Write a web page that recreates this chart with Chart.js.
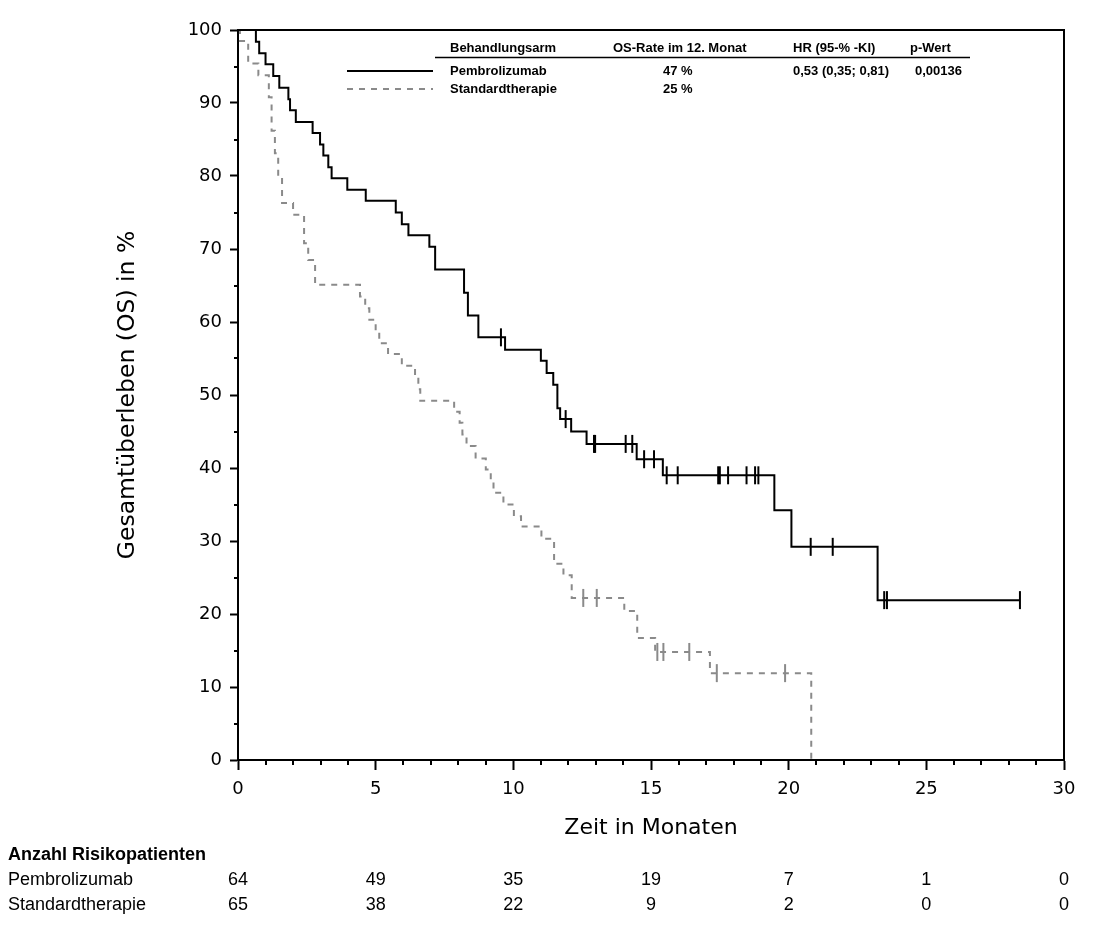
<!DOCTYPE html>
<html><head><meta charset="utf-8">
<script src="https://cdn.jsdelivr.net/npm/chart.js@4/dist/chart.umd.min.js"></script>
<style>html,body{margin:0;padding:0;background:#fff;}#wrap{width:1096px;height:931px;position:relative;}</style>
</head><body><div id="wrap"><canvas id="c" width="1096" height="931"></canvas></div>
<script>
// ---- Data ----
const pembroTimes = [0, 0.65, 0.77, 1.0, 1.28, 1.5, 1.83, 1.89, 2.1, 2.71, 2.98, 3.1, 3.28, 3.4, 3.97, 4.64, 5.73, 5.95, 6.19, 6.95, 7.16, 8.21, 8.35, 8.73, 9.7, 11.0, 11.21, 11.45, 11.6, 11.7, 12.1, 12.66, 14.48, 15.43, 19.48, 20.1, 23.23, 28.4];
const pembroSurv  = [100, 98.4, 96.8, 95.3, 93.7, 92.1, 90.5, 89.0, 87.4, 85.9, 84.3, 82.8, 81.2, 79.7, 78.1, 76.6, 75.0, 73.4, 71.9, 70.3, 67.2, 64.0, 60.9, 57.9, 56.2, 54.7, 53.0, 51.4, 48.2, 46.7, 45.0, 43.3, 41.2, 39.0, 34.2, 29.2, 21.9, 21.9];
const pembroCensor = [9.55, 11.9, 12.93, 12.97, 14.08, 14.32, 14.75, 15.11, 15.57, 15.97, 17.44, 17.5, 17.8, 18.47, 18.78, 18.9, 20.8, 21.6, 23.47, 23.57, 28.4];

const stdTimes = [0, 0.07, 0.37, 0.74, 1.12, 1.22, 1.34, 1.46, 1.6, 2.0, 2.4, 2.55, 2.8, 4.43, 4.62, 4.77, 5.0, 5.13, 5.45, 5.95, 6.43, 6.55, 6.62, 7.85, 8.05, 8.15, 8.3, 8.63, 9.0, 9.18, 9.28, 9.64, 10.02, 10.28, 11.02, 11.48, 11.82, 12.12, 14.03, 14.5, 15.15, 17.14, 20.82];
const stdSurv  = [100, 98.5, 95.4, 93.8, 90.8, 86.2, 83.1, 80.0, 76.3, 74.7, 70.8, 68.5, 65.1, 63.5, 61.9, 60.3, 58.7, 57.1, 55.6, 54.0, 52.4, 50.8, 49.2, 47.7, 46.2, 44.6, 43.0, 41.3, 39.8, 38.2, 36.6, 35.0, 33.4, 32.0, 30.3, 26.9, 25.3, 22.2, 20.4, 16.7, 14.8, 11.9, 0];
const stdCensor = [12.54, 13.03, 15.23, 15.45, 16.39, 17.39, 19.87];

const riskTimes  = [0, 5, 10, 15, 20, 25, 30];
const riskPembro = [64, 49, 35, 19, 7, 1, 0];
const riskStd    = [65, 38, 22, 9, 2, 0, 0];

const armNames = ['Pembrolizumab', 'Standardtherapie'];
const legendHeaders = ['Behandlungsarm', 'OS-Rate im 12. Monat', 'HR (95-% -KI)', 'p-Wert'];
const osRate12 = ['47 %', '25 %'];
const hrText = ['0,53 (0,35; 0,81)', ''];
const pValue = ['0,00136', ''];
const riskTitle = 'Anzahl Risikopatienten';

// ---- helpers ----
function stepVal(times, surv, t) {
  let v = surv[0];
  for (let i = 0; i < times.length; i++) { if (times[i] <= t) v = surv[i]; }
  return v;
}
const pts = (ts, ss) => ts.map((t, i) => ({x: t, y: ss[i]}));
const cens = (cs, ts, ss) => cs.map(t => ({x: t, y: stepVal(ts, ss, t)}));

const BLACK = '#000000', GRAY = '#8a8a8a';

const decorPlugin = {
  id: 'decor',
  afterDraw(chart) {
    const {ctx, chartArea: a, scales: {x, y}} = chart;
    ctx.save();
    // frame top/right
    ctx.strokeStyle = BLACK; ctx.lineWidth = 2;
    ctx.beginPath();
    ctx.moveTo(a.left, a.top); ctx.lineTo(a.right, a.top); ctx.lineTo(a.right, a.bottom);
    ctx.stroke();
    // minor ticks
    ctx.lineWidth = 2;
    ctx.beginPath();
    for (let v = 1; v < 30; v++) {
      if (v % 5 === 0) continue;
      const px = Math.round(x.getPixelForValue(v));
      ctx.moveTo(px, a.bottom); ctx.lineTo(px, a.bottom + 5);
    }
    for (let v = 5; v < 100; v += 10) {
      const py = Math.round(y.getPixelForValue(v));
      ctx.moveTo(a.left - 4, py); ctx.lineTo(a.left, py);
    }
    ctx.stroke();

    // legend table
    ctx.fillStyle = BLACK;
    ctx.textBaseline = 'middle';
    ctx.textAlign = 'left';
    ctx.font = 'bold 13px "Liberation Sans", Arial, sans-serif';
    const hx = [450, 613, 793, 910];
    legendHeaders.forEach((h, i) => ctx.fillText(h, hx[i], 48));
    ctx.lineWidth = 1.5;
    ctx.beginPath(); ctx.moveTo(435, 57.5); ctx.lineTo(970, 57.5); ctx.stroke();
    const rowY = [71, 89];
    const styles = [{c: BLACK, d: []}, {c: GRAY, d: [6, 6]}];
    armNames.forEach((n, i) => {
      ctx.save();
      ctx.strokeStyle = styles[i].c; ctx.lineWidth = 2; ctx.setLineDash(styles[i].d);
      ctx.beginPath(); ctx.moveTo(347, rowY[i]); ctx.lineTo(433, rowY[i]); ctx.stroke();
      ctx.restore();
      ctx.fillText(n, 450, rowY[i]);
      ctx.fillText(osRate12[i], 663, rowY[i]);
      if (hrText[i]) ctx.fillText(hrText[i], 793, rowY[i]);
      if (pValue[i]) ctx.fillText(pValue[i], 915, rowY[i]);
    });

    // risk table
    ctx.font = 'bold 18px "Liberation Sans", Arial, sans-serif';
    ctx.textAlign = 'left';
    ctx.fillText(riskTitle, 8, 855);
    ctx.font = '18px "Liberation Sans", Arial, sans-serif';
    ctx.fillText(armNames[0], 8, 880);
    ctx.fillText(armNames[1], 8, 905);
    ctx.textAlign = 'center';
    riskTimes.forEach((t, i) => {
      const px = x.getPixelForValue(t);
      ctx.fillText(String(riskPembro[i]), px, 880);
      ctx.fillText(String(riskStd[i]), px, 905);
    });
    ctx.restore();
  }
};

new Chart(document.getElementById('c'), {
  type: 'line',
  data: {
    datasets: [
      {label: armNames[0], data: pts(pembroTimes, pembroSurv), stepped: 'before', borderColor: BLACK, borderWidth: 2, pointRadius: 0, fill: false},
      {label: armNames[1], data: pts(stdTimes, stdSurv), stepped: 'before', borderColor: GRAY, borderWidth: 2, borderDash: [6, 6], pointRadius: 0, fill: false},
      {type: 'scatter', label: 'z1', data: cens(pembroCensor, pembroTimes, pembroSurv), pointStyle: 'line', rotation: 90, radius: 9, borderWidth: 2, borderColor: BLACK, backgroundColor: BLACK, clip: false},
      {type: 'scatter', label: 'z2', data: cens(stdCensor, stdTimes, stdSurv), pointStyle: 'line', rotation: 90, radius: 9, borderWidth: 2, borderColor: GRAY, backgroundColor: GRAY, clip: false}
    ]
  },
  options: {
    responsive: false, animation: false, devicePixelRatio: 1,
    layout: {padding: {left: 114, top: 30, right: 32, bottom: 80}},
    plugins: {legend: {display: false}, tooltip: {enabled: false}},
    elements: {line: {tension: 0}},
    scales: {
      x: {
        type: 'linear', min: 0, max: 30,
        ticks: {stepSize: 5, color: BLACK, font: {family: '"DejaVu Sans", sans-serif', size: 18}, padding: 9, maxRotation: 0, autoSkip: false},
        grid: {drawOnChartArea: false, drawTicks: true, tickLength: 10, tickWidth: 2, tickColor: BLACK},
        border: {display: true, color: BLACK, width: 2},
        title: {display: true, text: 'Zeit in Monaten', color: BLACK, font: {family: '"DejaVu Sans", sans-serif', size: 22}, padding: {top: 0, bottom: 10}},
        afterFit(s) { s.height = 91; }
      },
      y: {
        type: 'linear', min: 0, max: 100,
        ticks: {stepSize: 10, color: BLACK, font: {family: '"DejaVu Sans", sans-serif', size: 18}, padding: 8},
        grid: {drawOnChartArea: false, drawTicks: true, tickLength: 8, tickWidth: 2, tickColor: BLACK},
        border: {display: true, color: BLACK, width: 2},
        title: {display: true, text: 'Gesamtüberleben (OS) in %', color: BLACK, font: {family: '"DejaVu Sans", sans-serif', size: 23.5}, padding: 0},
        afterFit(s) { s.width = 124; }
      }
    }
  },
  plugins: [decorPlugin]
});
</script>
</body></html>
